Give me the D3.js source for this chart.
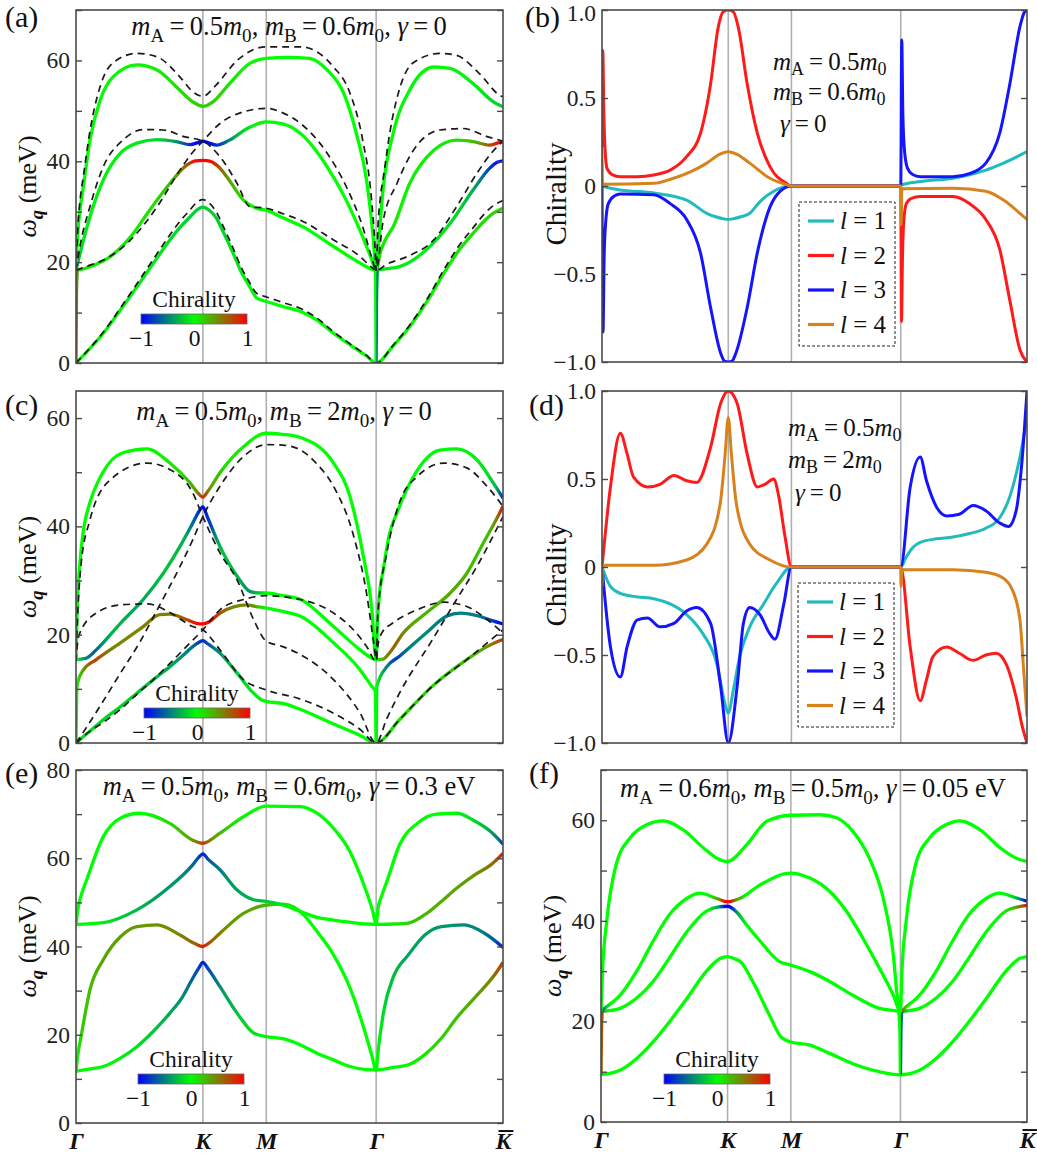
<!DOCTYPE html>
<html><head><meta charset="utf-8">
<script src="https://cdn.jsdelivr.net/npm/d3@7"></script>
</head><body style="margin:0;background:#fff">
<svg id="fig" width="1037" height="1157" style="display:block"></svg>
<script>
// ---------- path through the Brillouin zone ----------
const qPos = [0, 1, 1.5, 2.366, 3.366];
const qNames = ["Γ", "K", "M", "Γ", "K\u0304"];

// ---------- tick labels ----------
const aTicks = [0,10,20,30,40,50,60,70];
const aTickLabels = [0,20,40,60];
const cTicks = [0,10,20,30,40,50,60];
const cTickLabels = [0,20,40,60];
const eTicks = [0,10,20,30,40,50,60,70,80];
const eTickLabels = [0,20,40,60,80];
const fTicks = [0,10,20,30,40,50,60,70];
const fTickLabels = [0,20,40,60];
const chiTicks = [-1,-0.5,0,0.5,1];
const cbTicks = [-1,0,1];
const legendNames = ["l = 1","l = 2","l = 3","l = 4"];

// ---------- (a) bands [q, meV] ----------
const aBand1 = [[0,0],[0.1,2.6],[0.215,5.9],[0.35,10.5],[0.48,15.1],[0.61,19.8],[0.74,24.4],[0.82,26.9],[0.9,29],[0.95,30.3],[1,30.9],[1.05,30.3],[1.1,29],[1.17,25.5],[1.24,21.7],[1.3,18.2],[1.37,15.1],[1.42,13],[1.46,12.5],[1.5,12.2],[1.63,11.2],[1.77,10.2],[1.9,8.5],[2.03,5.9],[2.16,3.6],[2.29,1.4],[2.366,0],[2.5,3.4],[2.63,7.2],[2.77,12.3],[2.9,17.8],[3.02,22.4],[3.13,25.7],[3.22,28.2],[3.29,29.7],[3.366,30.7]];
const aBand2 = [[0,0],[0.004,14],[0.012,18.4],[0.05,18.6],[0.11,19.1],[0.27,21.1],[0.43,25],[0.58,30.3],[0.74,35.6],[0.87,39.2],[0.94,40.1],[1,40.2],[1.06,40],[1.12,39],[1.19,36.9],[1.32,32.3],[1.42,30.7],[1.5,30.3],[1.63,28.8],[1.79,27],[2.03,23.1],[2.24,19.8],[2.33,18.6],[2.36,18.4],[2.363,12],[2.366,0],[2.369,12],[2.378,18.4],[2.42,18.6],[2.55,19.1],[2.76,22.4],[2.95,27.7],[3.13,34.3],[3.26,38.6],[3.32,39.8],[3.366,40.1]];
const aBand3 = [[0,18.4],[0.03,21.5],[0.06,24.5],[0.11,29],[0.215,36.3],[0.35,41.6],[0.48,43.6],[0.64,44.3],[0.79,43.9],[0.9,43.3],[0.96,43.7],[1,44],[1.04,43.7],[1.11,43.2],[1.21,44.2],[1.35,46.5],[1.5,47.8],[1.63,47.4],[1.77,45.5],[1.98,38.9],[2.13,32.3],[2.26,25],[2.33,20.6],[2.366,18.4],[2.4,22],[2.44,24.5],[2.5,27],[2.63,35.6],[2.82,42.2],[3.0,44.2],[3.13,43.9],[3.26,43.2],[3.32,43.6],[3.366,43.9]];
const aBand4 = [[0,18.4],[0.015,26],[0.035,31],[0.058,35],[0.11,44.2],[0.19,52.1],[0.29,56.7],[0.48,59.1],[0.64,58.1],[0.79,54.8],[0.92,51.8],[1,50.9],[1.08,51.8],[1.21,55.4],[1.37,59.4],[1.5,60.4],[1.67,60.6],[1.84,60.4],[1.98,58.1],[2.11,53.5],[2.21,45.5],[2.29,36.3],[2.34,25.7],[2.366,18.4],[2.392,26],[2.42,34.3],[2.5,45.5],[2.63,54.1],[2.82,58.7],[2.95,58.4],[3.13,55.4],[3.29,51.8],[3.366,50.8]];
const aDash1 = [[0,0],[0.1,2.7],[0.215,6.1],[0.35,10.9],[0.48,15.7],[0.61,20.6],[0.74,25.4],[0.82,28.1],[0.9,30.4],[0.95,31.8],[1,32.4],[1.05,31.7],[1.1,30.2],[1.17,26.6],[1.24,22.7],[1.3,19.1],[1.37,15.9],[1.42,13.9],[1.46,13.4],[1.5,13.1],[1.63,12],[1.77,10.8],[1.9,8.9],[2.03,6.2],[2.16,3.8],[2.29,1.5],[2.366,0],[2.5,3.5],[2.63,7.5],[2.77,12.8],[2.9,18.5],[3.02,23.3],[3.13,26.8],[3.22,29.6],[3.29,31.2],[3.366,32.2]];
const aDash2 = [[0,18.4],[0.1,19.3],[0.215,20.4],[0.43,24.4],[0.64,31],[0.82,38.3],[0.92,41.8],[1,44],[1.135,47.5],[1.32,49.8],[1.5,50.5],[1.63,49.6],[1.77,47.5],[1.98,41.6],[2.13,35],[2.26,27],[2.33,21],[2.366,18.4],[2.45,19.6],[2.61,21.1],[2.82,24.4],[3.0,31],[3.16,37.6],[3.28,41.8],[3.366,44]];
const aDash3 = [[0,18.4],[0.03,23],[0.11,31],[0.215,38.9],[0.37,44.2],[0.53,46.3],[0.69,46.2],[0.85,44.9],[1,44],[1.135,40.9],[1.27,35.6],[1.37,31],[1.5,30.7],[1.63,29.6],[1.77,28.3],[2.03,24.4],[2.24,21.1],[2.32,19.2],[2.366,18.4],[2.42,28],[2.53,35.6],[2.66,42.2],[2.87,46.2],[3.05,46.5],[3.24,44.9],[3.366,44]];
const aDash4 = [[0,18.4],[0.015,27],[0.035,33],[0.058,37],[0.11,46],[0.19,54.8],[0.29,59.5],[0.48,61.4],[0.64,60.7],[0.82,56.7],[0.92,53.8],[1,52.9],[1.1,55],[1.27,60],[1.5,62.7],[1.77,62.7],[2.03,58.7],[2.16,53.5],[2.26,44.2],[2.33,32.3],[2.355,24],[2.366,18.4],[2.38,27],[2.4,33],[2.424,37],[2.476,46],[2.556,54.8],[2.656,59.5],[2.87,61.4],[3.0,61],[3.18,57.4],[3.34,53.1],[3.366,52.8]];

// ---------- (b) chirality [q, chi] ----------
const bChi1 = [[0,0],[0.05,-0.01],[0.145,-0.023],[0.41,-0.04],[0.67,-0.08],[0.83,-0.155],[0.9,-0.175],[0.96,-0.186],[1,-0.19],[1.04,-0.186],[1.1,-0.175],[1.17,-0.155],[1.25,-0.09],[1.36,-0.03],[1.5,0],[2.366,0],[2.37,0.005],[2.52,0.025],[2.78,0.044],[3.04,0.09],[3.18,0.13],[3.366,0.195]];
const bChi2 = [[0,0.22],[0.006,0.77],[0.015,0.4],[0.025,0.2],[0.04,0.1],[0.08,0.065],[0.145,0.053],[0.28,0.053],[0.41,0.0625],[0.54,0.09],[0.67,0.167],[0.78,0.3],[0.86,0.58],[0.92,0.9],[0.96,0.99],[1,1],[1.04,0.99],[1.08,0.9],[1.15,0.58],[1.23,0.3],[1.33,0.11],[1.46,0.015],[1.5,0],[2.366,0],[2.372,-0.77],[2.38,-0.4],[2.39,-0.2],[2.41,-0.1],[2.45,-0.07],[2.52,-0.06],[2.78,-0.06],[2.91,-0.1],[3.04,-0.19],[3.15,-0.36],[3.23,-0.65],[3.31,-0.93],[3.366,-1]];
const bChi3 = [[0,0],[0.008,-0.83],[0.017,-0.4],[0.03,-0.2],[0.05,-0.1],[0.1,-0.055],[0.145,-0.045],[0.41,-0.05],[0.54,-0.1],[0.67,-0.19],[0.78,-0.38],[0.86,-0.69],[0.94,-0.95],[0.97,-0.995],[1,-1],[1.03,-0.995],[1.06,-0.95],[1.15,-0.69],[1.23,-0.38],[1.33,-0.12],[1.41,-0.03],[1.5,0],[2.366,0],[2.374,0.83],[2.383,0.4],[2.396,0.2],[2.42,0.1],[2.46,0.065],[2.52,0.053],[2.78,0.053],[2.91,0.07],[3.04,0.13],[3.15,0.3],[3.23,0.58],[3.31,0.905],[3.34,0.98],[3.366,1]];
const bChi4 = [[0,0.22],[0.005,0.01],[0.41,0.015],[0.55,0.04],[0.7,0.08],[0.83,0.13],[0.93,0.18],[1,0.195],[1.07,0.18],[1.17,0.13],[1.33,0.044],[1.45,0.01],[1.5,0],[2.366,0],[2.369,-0.22],[2.375,-0.015],[2.78,-0.013],[3.04,-0.03],[3.18,-0.08],[3.31,-0.155],[3.366,-0.19]];

// ---------- (c) bands ----------
const cBand1 = [[0,0],[0.1,2],[0.215,4.3],[0.35,6.7],[0.48,9.2],[0.61,11.7],[0.74,14.1],[0.84,16.1],[0.92,17.8],[0.97,18.6],[1,18.9],[1.04,18.3],[1.135,16.6],[1.27,12.9],[1.4,9.2],[1.46,8],[1.5,7.7],[1.63,7.3],[1.77,6.2],[2.03,3.5],[2.24,1.4],[2.366,0],[2.55,4.3],[2.81,10.5],[3.08,15.4],[3.24,17.8],[3.32,18.7],[3.366,19.1]];
const cBand2 = [[0,0],[0.005,9],[0.012,11.1],[0.058,13.5],[0.16,15.4],[0.35,18.5],[0.53,21.5],[0.66,23.7],[0.74,23.8],[0.87,22.8],[0.95,22.1],[1,22],[1.05,22.4],[1.135,24],[1.25,25.2],[1.345,25.5],[1.42,25.2],[1.5,24.9],[1.63,24.3],[1.77,23.4],[2.03,18.5],[2.24,13.5],[2.33,10.5],[2.36,9.5],[2.366,0],[2.372,10.5],[2.45,14.1],[2.55,16],[2.76,20.3],[2.92,23.4],[3.03,24],[3.18,23.4],[3.28,22.6],[3.366,22]];
const cBand3 = [[0,15.4],[0.04,15.5],[0.084,15.7],[0.16,17.2],[0.35,22.1],[0.53,26.5],[0.69,31.4],[0.82,36.3],[0.92,40.6],[0.97,42.8],[1,43.6],[1.04,41.5],[1.135,36.3],[1.27,30.8],[1.37,28],[1.44,27.7],[1.5,27.7],[1.63,27.2],[1.77,26.5],[2.03,21.5],[2.24,17.2],[2.33,15.7],[2.366,15.4],[2.42,15.5],[2.47,16.6],[2.58,20.3],[2.76,24],[2.95,27.7],[3.08,31.3],[3.21,36.9],[3.3,40.7],[3.366,43.7]];
const cBand4 = [[0,15.4],[0.01,25],[0.03,33],[0.06,39.5],[0.11,44.4],[0.21,49.9],[0.37,53.6],[0.56,54.3],[0.74,51.7],[0.9,48],[0.96,46.2],[1,45.4],[1.04,46.5],[1.135,49.9],[1.32,54.7],[1.5,57.2],[1.63,57],[1.77,56.4],[2.03,51.7],[2.16,45.5],[2.26,35.1],[2.33,25.2],[2.366,15.4],[2.376,22],[2.39,27],[2.422,32],[2.47,38.5],[2.53,42.5],[2.66,49.2],[2.87,54.1],[3.0,54.3],[3.16,52.3],[3.29,48],[3.366,45.2]];
const cDash1 = [[0,0],[0.1,2],[0.215,3.8],[0.35,6.2],[0.48,9],[0.61,11.7],[0.74,14.7],[0.87,17.8],[1,20.9],[1.135,24.6],[1.32,26.5],[1.5,27.2],[1.63,27],[1.77,26.5],[2.03,24],[2.21,20.3],[2.3,17.5],[2.366,15],[2.38,18],[2.41,20.3],[2.5,22.2],[2.69,24.6],[2.9,26],[3.08,25.2],[3.24,22.8],[3.366,20.3]];
const cDash2 = [[0,0],[0.1,3.5],[0.2,7.2],[0.35,12.9],[0.5,18.5],[0.64,24.6],[0.82,32.6],[0.92,37.5],[1,41.8],[1.135,47.4],[1.32,52.9],[1.5,55.1],[1.63,55],[1.77,54.1],[1.9,51.5],[2.03,47.4],[2.19,38.1],[2.29,27.7],[2.35,18],[2.366,15.5],[2.38,24],[2.45,35.1],[2.55,44.4],[2.69,49.2],[2.9,51.7],[3.08,50.8],[3.24,47.4],[3.366,43.7]];
const cDash3 = [[0,15],[0.012,23],[0.04,33],[0.11,41.2],[0.27,48.6],[0.56,51.7],[0.74,50.5],[0.92,46.2],[1,41.8],[1.135,35.1],[1.27,30.1],[1.4,22.8],[1.5,18.8],[1.63,17.8],[1.77,16.3],[2.03,11.7],[2.24,5.5],[2.366,0],[2.45,4.5],[2.55,9.2],[2.81,19.1],[3.0,26.5],[3.16,32.6],[3.34,40.6],[3.366,41.8]];
const cDash4 = [[0,15],[0.01,18],[0.03,20.3],[0.16,24],[0.35,25.5],[0.56,25.7],[0.74,24.1],[0.92,21.5],[1,20.9],[1.135,17.2],[1.32,11.7],[1.5,9.8],[1.77,8.1],[2.03,5.5],[2.24,2.5],[2.366,0],[2.55,4.3],[2.81,10.5],[3.08,15.4],[3.366,20.9]];

// ---------- (d) chirality ----------
const dChi1 = [[0,0],[0.066,-0.11],[0.145,-0.15],[0.28,-0.17],[0.41,-0.18],[0.54,-0.21],[0.67,-0.27],[0.8,-0.38],[0.91,-0.55],[0.975,-0.78],[1,-0.83],[1.04,-0.7],[1.09,-0.51],[1.17,-0.34],[1.28,-0.21],[1.38,-0.095],[1.5,0],[2.366,0],[2.41,0.057],[2.46,0.11],[2.52,0.14],[2.65,0.16],[2.78,0.17],[2.91,0.19],[3.04,0.22],[3.15,0.28],[3.23,0.4],[3.31,0.625],[3.366,0.85]];
const dChi2 = [[0,0],[0.066,0.45],[0.145,0.76],[0.2,0.64],[0.25,0.51],[0.36,0.455],[0.46,0.47],[0.57,0.52],[0.67,0.49],[0.75,0.48],[0.86,0.68],[0.94,0.93],[1,1],[1.07,0.93],[1.15,0.64],[1.23,0.455],[1.29,0.47],[1.36,0.5],[1.4,0.4],[1.45,0.17],[1.5,0],[2.366,0],[2.44,-0.45],[2.52,-0.76],[2.57,-0.64],[2.62,-0.51],[2.73,-0.455],[2.83,-0.49],[2.94,-0.53],[3.04,-0.5],[3.12,-0.49],[3.2,-0.55],[3.28,-0.74],[3.33,-0.91],[3.366,-1]];
const dChi3 = [[0,0],[0.066,-0.45],[0.145,-0.625],[0.2,-0.45],[0.28,-0.3],[0.36,-0.29],[0.46,-0.34],[0.57,-0.32],[0.67,-0.25],[0.75,-0.23],[0.86,-0.32],[0.94,-0.68],[1,-1],[1.07,-0.68],[1.12,-0.32],[1.17,-0.23],[1.25,-0.27],[1.33,-0.38],[1.37,-0.41],[1.44,-0.21],[1.5,0],[2.366,0],[2.44,0.45],[2.52,0.625],[2.57,0.49],[2.65,0.34],[2.73,0.29],[2.83,0.3],[2.94,0.35],[3.04,0.32],[3.15,0.25],[3.22,0.23],[3.28,0.32],[3.32,0.55],[3.366,1]];
const dChi4 = [[0,-0.11],[0.005,0.01],[0.41,0.01],[0.67,0.04],[0.83,0.13],[0.936,0.36],[0.975,0.64],[1,0.85],[1.025,0.64],[1.064,0.36],[1.17,0.13],[1.33,0.04],[1.5,0],[2.366,0],[2.368,-0.11],[2.375,-0.015],[2.78,-0.015],[3.04,-0.03],[3.17,-0.06],[3.25,-0.13],[3.31,-0.3],[3.34,-0.59],[3.366,-0.85]];

// ---------- (e) bands and chirality ----------
const eBand1 = [[0,11.7],[0.1,12.2],[0.215,12.8],[0.35,14.7],[0.48,17.3],[0.61,20.8],[0.74,24.9],[0.84,28.6],[0.92,32.8],[0.97,35.2],[1,36.4],[1.04,35],[1.135,30.9],[1.27,24.9],[1.4,20.4],[1.46,19.8],[1.5,19.6],[1.63,19.1],[1.77,17.7],[1.9,15.8],[2.03,14.3],[2.16,12.8],[2.29,12.1],[2.366,12],[2.5,12.6],[2.62,13.2],[2.75,15.5],[2.88,19.2],[3.0,23.8],[3.14,28.3],[3.3,33.6],[3.366,36.4]];
const eBand2 = [[0,11.7],[0.015,15.5],[0.045,20.4],[0.11,30.2],[0.215,37],[0.35,42.2],[0.48,44.5],[0.64,44.9],[0.82,42.6],[0.94,40.6],[1,40],[1.05,40.8],[1.135,43],[1.32,47.5],[1.5,49.4],[1.63,49.6],[1.72,48.9],[1.8,47],[1.9,43.4],[2.03,38.1],[2.16,30.6],[2.26,22.3],[2.33,15.5],[2.366,12],[2.38,16],[2.43,26],[2.5,33],[2.62,38.1],[2.75,42.6],[2.88,44.5],[3.06,44.9],[3.22,43],[3.366,39.8]];
const eBand3 = [[0,45],[0.215,45.4],[0.48,48.3],[0.74,53.6],[0.92,58.5],[0.97,60.3],[1,61],[1.04,59.8],[1.135,57.4],[1.27,52.8],[1.4,50.6],[1.5,50.2],[1.63,49.4],[1.77,47.9],[1.9,46.6],[2.03,46],[2.16,45.5],[2.29,45.1],[2.366,45],[2.5,45.1],[2.62,45.3],[2.75,47.2],[2.88,50.2],[3.0,53.2],[3.14,56.2],[3.27,58.5],[3.366,61.1]];
const eBand4 = [[0,45],[0.015,48.5],[0.04,51.5],[0.084,55.1],[0.215,64.9],[0.35,69.1],[0.5,70.2],[0.74,67.9],[0.92,64.1],[1,63.4],[1.135,65.7],[1.32,69.4],[1.5,71.8],[1.77,71.7],[1.9,70.2],[2.03,66.8],[2.16,61.5],[2.26,54.7],[2.34,47.9],[2.366,45],[2.38,48.5],[2.41,51.5],[2.45,54.7],[2.55,63],[2.69,67.9],[2.84,70],[3.0,70.2],[3.14,68.5],[3.27,66],[3.366,63.2]];
const eChi1 = [[0,0],[0.3,-0.03],[0.5,-0.12],[0.7,-0.3],[0.85,-0.45],[0.95,-0.7],[1,-0.9],[1.05,-0.7],[1.15,-0.4],[1.3,-0.2],[1.45,-0.05],[1.55,0],[2.366,0],[2.6,0.03],[2.8,0.12],[3.0,0.25],[3.15,0.35],[3.28,0.5],[3.366,0.8]];
const eChi2 = [[0,0],[0.05,0.2],[0.2,0.35],[0.5,0.4],[0.8,0.45],[0.93,0.6],[1,0.9],[1.07,0.6],[1.2,0.4],[1.4,0.35],[1.5,0.3],[1.65,0.1],[1.8,0],[2.366,0],[2.45,-0.2],[2.6,-0.35],[2.9,-0.4],[3.2,-0.5],[3.3,-0.65],[3.366,-0.9]];
const eChi3 = [[0,0],[0.2,-0.05],[0.35,-0.2],[0.6,-0.35],[0.85,-0.45],[0.95,-0.65],[1,-0.9],[1.05,-0.65],[1.2,-0.4],[1.4,-0.3],[1.5,-0.2],[1.65,-0.05],[1.8,0],[2.366,0],[2.5,0.05],[2.7,0.25],[3.0,0.35],[3.2,0.45],[3.3,0.6],[3.366,0.9]];
const eChi4 = [[0,0],[0.55,0],[0.75,0.15],[0.9,0.35],[0.97,0.6],[1,0.8],[1.03,0.6],[1.1,0.35],[1.25,0.1],[1.4,0],[2.366,0],[2.9,0],[3.1,-0.1],[3.25,-0.3],[3.33,-0.55],[3.366,-0.8]];

// ---------- (f) bands and chirality ----------
const fBand1 = [[0,9.4],[0.15,10.3],[0.28,12.6],[0.41,15.9],[0.54,19.9],[0.68,24.6],[0.83,29.9],[0.94,32.5],[1,32.9],[1.05,32.5],[1.1,31.9],[1.2,27.9],[1.33,21.3],[1.42,17],[1.5,15.9],[1.65,15.3],[1.81,13.6],[1.99,11.6],[2.2,10],[2.366,9.4],[2.516,10.3],[2.646,12.6],[2.776,15.9],[2.906,19.9],[3.046,24.6],[3.196,29.9],[3.306,32.5],[3.366,32.9]];
const fBand2 = [[0,9.5],[0.004,18],[0.012,22],[0.05,22.1],[0.15,22.6],[0.28,24.6],[0.41,27.9],[0.54,32.6],[0.68,37.9],[0.83,41.9],[0.93,42.8],[1,42.9],[1.07,41.8],[1.15,39.2],[1.26,35.9],[1.41,31.9],[1.5,31.2],[1.65,29.9],[1.81,27.9],[1.99,25.2],[2.2,22.6],[2.35,22],[2.362,18],[2.366,9.5],[2.37,18],[2.378,22],[2.416,22.1],[2.516,22.6],[2.646,24.6],[2.776,27.9],[2.906,32.6],[3.046,37.9],[3.196,41.9],[3.296,42.8],[3.366,43.1]];
const fBand3 = [[0,22],[0.05,23],[0.15,25.2],[0.28,29.9],[0.41,35.9],[0.54,41.2],[0.68,44.5],[0.78,45.5],[0.91,44.5],[1,43.8],[1.1,44.5],[1.26,47.2],[1.5,49.5],[1.65,48.5],[1.81,45.8],[1.94,41.9],[2.07,36.5],[2.2,30.6],[2.31,25.2],[2.366,22],[2.416,23],[2.516,25.2],[2.646,29.9],[2.776,35.9],[2.906,41.2],[3.046,44.5],[3.146,45.5],[3.276,44.6],[3.366,43.9]];
const fBand4 = [[0,22],[0.012,30],[0.045,39.9],[0.12,51.2],[0.23,56.5],[0.36,59.1],[0.49,59.9],[0.65,58.1],[0.81,54.5],[0.92,52.4],[1,51.8],[1.15,55.1],[1.31,59.8],[1.5,61],[1.73,61.1],[1.86,60.5],[1.99,57.8],[2.12,52.5],[2.23,44.5],[2.31,33.2],[2.34,25.2],[2.366,22],[2.378,30],[2.411,39.9],[2.486,51.2],[2.596,56.5],[2.726,59.1],[2.836,59.9],[2.996,58.1],[3.156,54.5],[3.286,52.4],[3.366,51.8]];
const fChi1 = [[0,0],[3.366,0]];
const fChi2 = [[0,0],[0.004,0.8],[0.03,0.3],[0.07,0],[0.85,0],[0.93,-0.4],[0.97,-0.9],[1,-1],[1.03,-0.9],[1.07,-0.4],[1.15,0],[2.366,0],[2.37,-0.8],[2.396,-0.3],[2.436,0],[3.15,0],[3.25,0.2],[3.32,0.6],[3.366,1]];
const fChi3 = [[0,0],[0.01,-0.8],[0.04,-0.2],[0.08,0],[0.85,0],[0.93,0.4],[0.97,0.9],[1,1],[1.03,0.9],[1.07,0.4],[1.15,0],[2.366,0],[2.376,0.8],[2.406,0.2],[2.446,0],[3.2,0],[3.27,-0.2],[3.32,-0.6],[3.366,-1]];
const fChi4 = [[0,0],[3.366,0]];

// ---------- styles ----------
const chiLineColors = ["#20bcbc", "#ff1a1a", "#1414ff", "#d8821c"];
const SERIF = "Liberation Serif, Times New Roman, serif";
const FONT_TICK = 23.5;

const svg = d3.select("#fig");
const defs = svg.append("defs");
let uid = 0;

function chiColor(c) {
  c = Math.max(-1, Math.min(1, c));
  if (c < 0) return d3.rgb(0, Math.round(255 * (1 + c)), Math.round(-255 * c)).formatHex();
  return d3.rgb(Math.round(255 * c), Math.round(255 * (1 - c)), 0).formatHex();
}

function rich(textSel, segs, base, shiftFrac) {
  let shifted = false;
  const sh = base * (shiftFrac || 0.26);
  segs.forEach(([t, k]) => {
    const sp = textSel.append("tspan").text(t);
    const sub = k.includes("s");
    if (k.includes("i")) sp.attr("font-style", "italic");
    if (k.includes("b")) sp.attr("font-weight", "bold");
    if (sub) sp.attr("font-size", (base * 0.72) + "px");
    if (sub && !shifted) { sp.attr("dy", sh); shifted = true; }
    else if (!sub && shifted) { sp.attr("dy", -sh); shifted = false; }
  });
}

function panelLabel(txt, x, y) {
  svg.append("text").attr("x", x).attr("y", y).attr("font-size", 30).attr("fill", "#111").text(txt);
}

function frameAndGuides(g, o, x) {
  const cid = "clip" + (uid++);
  defs.append("clipPath").attr("id", cid).append("rect")
    .attr("x", o.l).attr("y", o.t).attr("width", o.r - o.l).attr("height", o.b - o.t);
  g.append("g").selectAll("line").data(qPos.slice(1, 4)).join("line")
    .attr("x1", d => x(d)).attr("x2", d => x(d)).attr("y1", o.t).attr("y2", o.b)
    .attr("stroke", "#b0b0b0").attr("stroke-width", 1.6);
  return g.append("g").attr("clip-path", `url(#${cid})`);
}

function drawFrame(g, o) {
  g.append("rect").attr("x", o.l).attr("y", o.t).attr("width", o.r - o.l).attr("height", o.b - o.t)
    .attr("fill", "none").attr("stroke", "#4a4a4a").attr("stroke-width", 1.6);
}

function yAxes(g, o, y, ticks, labels, fmt, topNudge) {
  const la = g.append("g").attr("transform", `translate(${o.l},0)`)
    .call(d3.axisLeft(y).tickValues(ticks).tickSize(-6).tickPadding(6)
      .tickFormat(d => labels.includes(d) ? fmt(d) : ""));
  la.select(".domain").remove();
  la.attr("font-family", SERIF);
  la.selectAll("line").attr("stroke", "#4a4a4a").attr("stroke-width", 1.4);
  la.selectAll("text").attr("font-size", FONT_TICK).attr("fill", "#222");
  if (topNudge) la.selectAll(".tick").filter(d => d === ticks[ticks.length - 1]).select("text").attr("y", topNudge);
  const ra = g.append("g").attr("transform", `translate(${o.r},0)`)
    .call(d3.axisRight(y).tickValues(ticks).tickSize(-6).tickFormat(""));
  ra.select(".domain").remove();
  ra.selectAll("line").attr("stroke", "#4a4a4a").attr("stroke-width", 1.4);
}

function yLabelOmega(o) {
  const t = svg.append("text").attr("transform", `translate(${o.l - 40},${(o.t + o.b) / 2}) rotate(-90)`)
    .attr("text-anchor", "middle").attr("font-size", 26).attr("fill", "#111");
  rich(t, [["ω", "i"], ["q", "bis"], [" (meV)", "n"]], 26);
}

function colorbar(g, cx, cy) {
  const gid = "cbg" + (uid++);
  const lg = defs.append("linearGradient").attr("id", gid);
  lg.selectAll("stop").data(cbTicks).join("stop")
    .attr("offset", d => (d + 1) / 2).attr("stop-color", d => chiColor(d));
  const W = 106, H = 10;
  const cg = g.append("g").attr("transform", `translate(${cx},${cy})`);
  cg.append("rect").attr("width", W).attr("height", H).attr("fill", `url(#${gid})`)
    .attr("stroke", "#666").attr("stroke-width", 0.8);
  cg.append("text").attr("x", W / 2).attr("y", -7).attr("text-anchor", "middle")
    .attr("font-size", 23.5).attr("fill", "#111").text("Chirality");
  const s = d3.scaleLinear().domain([-1, 1]).range([0, W]);
  const ax = cg.append("g").attr("transform", `translate(0,${H})`)
    .call(d3.axisBottom(s).tickValues(cbTicks).tickSize(0).tickPadding(5).tickFormat(d3.format("d")));
  ax.select(".domain").remove();
  ax.attr("font-family", SERIF);
  ax.selectAll("text").attr("font-size", 23.5).attr("fill", "#111");
}

function xLabels(g, o, x) {
  const ax = g.append("g").attr("transform", `translate(0,${o.b})`)
    .call(d3.axisBottom(x).tickValues(qPos).tickSize(0).tickPadding(9)
      .tickFormat((d, i) => qNames[i].replace("\u0304", "")));
  ax.select(".domain").remove();
  ax.attr("font-family", SERIF);
  ax.selectAll("text").attr("font-size", 24).attr("font-weight", "bold").attr("font-style", "italic")
    .attr("fill", "#111");
  ax.selectAll(".tick").each(function(d, i) {
    if (qNames[i].includes("\u0304")) {
      const tx = d3.select(this).select("text");
      const bb = tx.node().getBBox();
      d3.select(this).append("line").attr("x1", bb.x + 4).attr("x2", bb.x + bb.width)
        .attr("y1", bb.y + 3).attr("y2", bb.y + 3).attr("stroke", "#111").attr("stroke-width", 2);
    }
  });
}

function bandPanel(o) {
  const g = svg.append("g");
  const x = d3.scaleLinear().domain([qPos[0], qPos[4]]).range([o.l, o.r]);
  const y = d3.scaleLinear().domain([0, o.yMax]).range([o.b, o.t]);
  const cg = frameAndGuides(g, o, x);
  const line = d3.line().x(d => x(d[0])).y(d => y(d[1])).curve(d3.curveMonotoneX);
  o.bands.forEach((band, i) => {
    const gid = "bg" + (uid++);
    const lg = defs.append("linearGradient").attr("id", gid).attr("gradientUnits", "userSpaceOnUse")
      .attr("x1", x(qPos[0])).attr("x2", x(qPos[4])).attr("y1", 0).attr("y2", 0);
    lg.selectAll("stop").data(o.chis[i]).join("stop")
      .attr("offset", d => (x(d[0]) - x(qPos[0])) / (x(qPos[4]) - x(qPos[0])))
      .attr("stop-color", d => chiColor(d[1]));
    cg.append("path").datum(band).attr("d", line).attr("fill", "none")
      .attr("stroke", `url(#${gid})`).attr("stroke-width", 3.3).attr("stroke-linejoin", "round");
  });
  (o.dashed || []).forEach(dl => {
    cg.append("path").datum(dl).attr("d", line).attr("fill", "none")
      .attr("stroke", "#1a1a1a").attr("stroke-width", 1.7).attr("stroke-dasharray", "7,5");
  });
  drawFrame(g, o);
  yAxes(g, o, y, o.ticks, o.labels, d => String(d));
  colorbar(g, o.l + o.cbx, o.t + o.cby);
  const t = g.append("text").attr("x", o.annX).attr("y", o.annY).attr("text-anchor", "middle")
    .attr("font-size", 26.5).attr("fill", "#111");
  rich(t, o.ann, 26.5);
  yLabelOmega(o);
  if (o.xlab) xLabels(g, o, x);
}

function chiPanel(o) {
  const g = svg.append("g");
  const x = d3.scaleLinear().domain([qPos[0], qPos[4]]).range([o.l, o.r]);
  const y = d3.scaleLinear().domain([-1, 1]).range([o.b, o.t]);
  const cg = frameAndGuides(g, o, x);
  const line = d3.line().x(d => x(d[0])).y(d => y(d[1])).curve(d3.curveMonotoneX);
  o.chis.forEach((c, i) => {
    cg.append("path").datum(c).attr("d", line).attr("fill", "none")
      .attr("stroke", chiLineColors[i]).attr("stroke-width", 3).attr("stroke-linejoin", "round");
  });
  drawFrame(g, o);
  yAxes(g, o, y, chiTicks, chiTicks, d => d === 0 ? "0" : d3.format(".1f")(d), o.topNudge);
  svg.append("text").attr("transform", `translate(${o.l - 36},${(o.t + o.b) / 2 + 8}) rotate(-90)`)
    .attr("text-anchor", "middle").attr("font-size", 29).attr("fill", "#111").text("Chirality");
  o.lines.forEach((segs, i) => {
    const t = g.append("text").attr("x", o.txtX + (i === 2 ? 7 : 0)).attr("y", o.txtY[i])
      .attr("font-size", 25).attr("fill", "#111");
    rich(t, segs, 25, 0.2);
  });
  const lgd = g.append("g").attr("transform", `translate(${o.legX},${o.legY})`);
  lgd.append("rect").attr("width", 96).attr("height", 144).attr("fill", "#fff")
    .attr("stroke", "#222").attr("stroke-width", 1).attr("stroke-dasharray", "3,2");
  legendNames.forEach((nm, i) => {
    const yy = 19 + i * 34.5;
    lgd.append("line").attr("x1", 9).attr("x2", 35).attr("y1", yy).attr("y2", yy)
      .attr("stroke", chiLineColors[i]).attr("stroke-width", 3.2);
    const t = lgd.append("text").attr("x", 41).attr("y", yy + 8).attr("font-size", 25).attr("fill", "#111");
    const parts = nm.split(" ");
    rich(t, [[parts[0], "i"], [" " + parts[1] + " " + parts[2], "n"]], 25);
  });
}

const TS = "\u2009=\u2009";
function annSegs(mA, mB, gam) {
  return [["m","i"],["A","s"],[TS + mA,"n"],["m","i"],["0","s"],[", ","n"],
          ["m","i"],["B","s"],[TS + mB,"n"],["m","i"],["0","s"],[", ","n"],
          ["γ","i"],[TS + gam,"n"]];
}
function chiLines(mA, mB) {
  return [
    [["m","i"],["A","s"],[TS + mA,"n"],["m","i"],["0","s"]],
    [["m","i"],["B","s"],[TS + mB,"n"],["m","i"],["0","s"]],
    [["γ","i"],[TS + "0","n"]]
  ];
}

// ---------- build panels ----------
bandPanel({l:76, r:503, t:10, b:363, yMax:70, ticks:aTicks, labels:aTickLabels,
  bands:[aBand1,aBand2,aBand3,aBand4], chis:[bChi1,bChi2,bChi3,bChi4],
  dashed:[aDash1,aDash2,aDash3,aDash4], cbx:65, cby:304,
  ann:annSegs("0.5","0.6","0"), annX:289, annY:35});
chiPanel({l:602, r:1027, t:10, b:362, chis:[bChi1,bChi2,bChi3,bChi4], topNudge:3,
  lines:chiLines("0.5","0.6"), txtX:773, txtY:[70,100,132], legX:799, legY:202});
bandPanel({l:76, r:503, t:391, b:743, yMax:65, ticks:cTicks, labels:cTickLabels,
  bands:[cBand1,cBand2,cBand3,cBand4], chis:[dChi1,dChi2,dChi3,dChi4],
  dashed:[cDash1,cDash2,cDash3,cDash4], cbx:68, cby:317,
  ann:annSegs("0.5","2","0"), annX:284, annY:420});
chiPanel({l:602, r:1027, t:391, b:743, chis:[dChi1,dChi2,dChi3,dChi4],
  lines:chiLines("0.5","2"), txtX:788, txtY:[436,468,501], legX:798, legY:583});
bandPanel({l:76, r:503, t:770, b:1123, yMax:80, ticks:eTicks, labels:eTickLabels,
  bands:[eBand1,eBand2,eBand3,eBand4], chis:[eChi1,eChi2,eChi3,eChi4],
  dashed:[], cbx:62, cby:304, xlab:true,
  ann:annSegs("0.5","0.6","0.3 eV"), annX:289, annY:795});
bandPanel({l:601, r:1027, t:770, b:1122, yMax:70, ticks:fTicks, labels:fTickLabels,
  bands:[fBand1,fBand2,fBand3,fBand4], chis:[fChi1,fChi2,fChi3,fChi4],
  dashed:[], cbx:63, cby:304, xlab:true,
  ann:annSegs("0.6","0.5","0.05 eV"), annX:813, annY:797});

panelLabel("(a)", 5, 27);
panelLabel("(b)", 525, 27);
panelLabel("(c)", 5, 415);
panelLabel("(d)", 529, 415);
panelLabel("(e)", 5, 783);
panelLabel("(f)", 529, 783);

// every text in the serif face (attribute and inline style)
svg.selectAll("text").attr("font-family", SERIF).style("font-family", SERIF);
</script></body></html>
